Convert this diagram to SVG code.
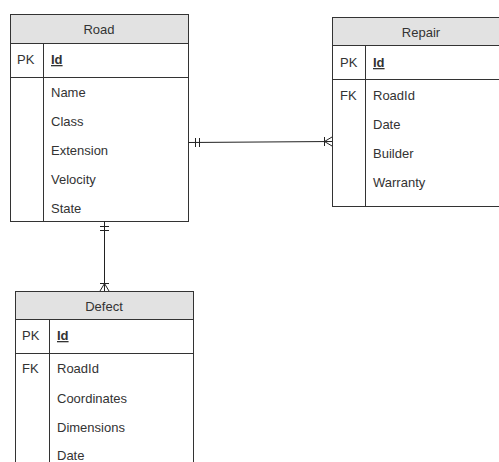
<svg xmlns="http://www.w3.org/2000/svg" width="499" height="462" viewBox="0 0 499 462">
<style>
.box{fill:#fff;stroke:#333;stroke-width:1}
.hdr{fill:#e2e2e2;stroke:#333;stroke-width:1}
.ln{stroke:#333;stroke-width:1;fill:none}
text{font-family:"Liberation Sans",Arial,sans-serif;font-size:13px;fill:#333}
.t{text-anchor:middle}
.u{text-decoration:underline;font-weight:bold}
.c{stroke:#222;stroke-width:1;fill:none}
</style>
<rect width="499" height="462" fill="#fff"/>
<g id="road">
<rect class="box" x="10.5" y="14.5" width="178" height="207"/>
<rect class="hdr" x="10.5" y="14.5" width="178" height="29"/>
<line class="ln" x1="10.5" y1="77.5" x2="188.5" y2="77.5"/>
<line class="ln" x1="43.5" y1="43.5" x2="43.5" y2="221.5"/>
<text class="t" x="99" y="34">Road</text>
<text x="17" y="64">PK</text>
<text class="u" x="51" y="64">Id</text>
<text x="51" y="97">Name</text>
<text x="51" y="126">Class</text>
<text x="51" y="155">Extension</text>
<text x="51" y="184">Velocity</text>
<text x="51" y="213">State</text>
</g>
<g id="repair">
<rect class="box" x="332.5" y="17.5" width="178" height="189"/>
<rect class="hdr" x="332.5" y="17.5" width="178" height="28"/>
<line class="ln" x1="332.5" y1="79.5" x2="510" y2="79.5"/>
<line class="ln" x1="365.5" y1="45.5" x2="365.5" y2="206.5"/>
<text class="t" x="421" y="37">Repair</text>
<text x="340" y="67">PK</text>
<text class="u" x="373" y="67">Id</text>
<text x="340" y="100">FK</text>
<text x="373" y="100">RoadId</text>
<text x="373" y="129">Date</text>
<text x="373" y="158">Builder</text>
<text x="373" y="187">Warranty</text>
</g>
<g id="defect">
<rect class="box" x="15.5" y="291.5" width="178" height="200"/>
<rect class="hdr" x="15.5" y="291.5" width="178" height="28"/>
<line class="ln" x1="15.5" y1="353.5" x2="193.5" y2="353.5"/>
<line class="ln" x1="49.5" y1="319.5" x2="49.5" y2="470"/>
<text class="t" x="104" y="311">Defect</text>
<text x="22" y="340">PK</text>
<text class="u" x="57" y="340">Id</text>
<text x="22" y="373">FK</text>
<text x="57" y="373">RoadId</text>
<text x="57" y="403">Coordinates</text>
<text x="57" y="432">Dimensions</text>
<text x="57" y="460">Date</text>
</g>
<g id="connectors">
<path class="c" d="M188.5 142.5 L332 141.5"/>
<path class="c" d="M195.5 138 V147 M199.5 138 V147"/>
<path class="c" d="M324.5 137 V146 M324.5 141.5 L332 137 M324.5 141.5 L332 146"/>
<path class="c" d="M104.5 221.5 V291"/>
<path class="c" d="M100 226.5 H109 M100 230.5 H109"/>
<path class="c" d="M100 283.5 H109 M104.5 283.5 L100 291 M104.5 283.5 L109 291"/>
</g>
</svg>
